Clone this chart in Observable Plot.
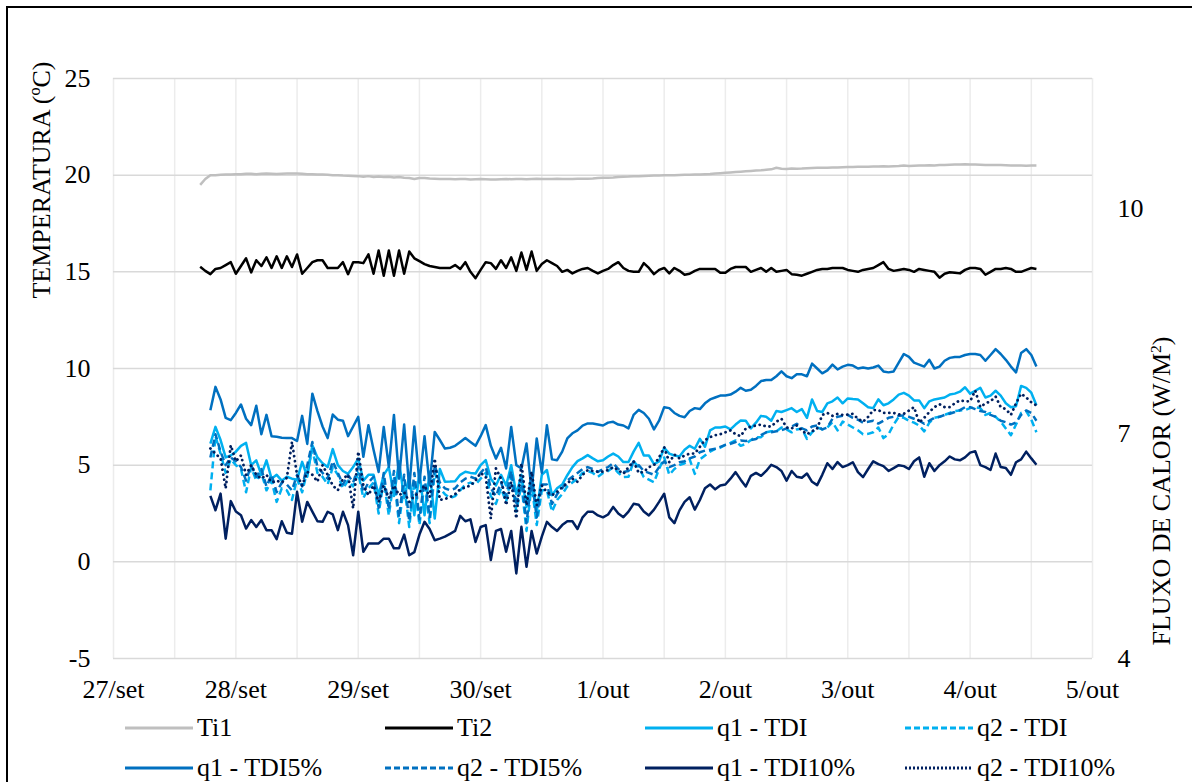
<!DOCTYPE html>
<html><head><meta charset="utf-8">
<script src="https://cdn.jsdelivr.net/npm/d3@7"></script>
<script src="https://cdn.jsdelivr.net/npm/@observablehq/plot@0.6"></script>
<style>
html,body{margin:0;padding:0;background:#fff;}
#wrap{position:relative;width:1192px;height:782px;overflow:hidden;font-family:"Liberation Serif","Times New Roman",serif;color:#000;background:#fff;}
#chart{position:absolute;left:0;top:0;}
#border{position:absolute;left:6px;top:6px;width:1300px;height:900px;border-left:2px solid #000;border-top:2px solid #000;pointer-events:none;}
.title{position:absolute;white-space:nowrap;font-size:26px;transform:translate(-50%,-50%) rotate(-90deg);}
.leg{position:absolute;display:flex;align-items:center;font-size:26px;height:30px;white-space:nowrap;}
.leg svg{margin-right:4px;}
</style></head>
<body><div id="wrap"><div id="chart"></div><div id="border"></div></div>
<script>
// ---- data (hourly readings from 27/set 17h) ----
const xLabels = ["27/set","28/set","29/set","30/set","1/out","2/out","3/out","4/out","5/out"];
const yTicks = [-5,0,5,10,15,20,25];
const rightTicks = [4,7,10];
const seriesNames = ["Ti1","Ti2","q1 - TDI","q2 - TDI","q1 - TDI5%","q2 - TDI5%","q1 - TDI10%","q2 - TDI10%"];

const ti1 = [19.5,19.8,20.0,20.0,20.02,20.03,20.03,20.05,20.05,20.07,
20.07,20.05,20.07,20.08,20.07,20.06,20.07,20.08,20.09,20.08,
20.07,20.05,20.05,20.04,20.03,20.02,20.0,20.0,19.98,19.97,
19.96,19.95,19.92,19.95,19.9,19.93,19.9,19.92,19.88,19.9,
19.87,19.85,19.8,19.85,19.85,19.83,19.82,19.8,19.8,19.8,
19.79,19.8,19.8,19.78,19.79,19.8,19.79,19.78,19.78,19.79,
19.8,19.79,19.8,19.8,19.79,19.8,19.81,19.8,19.8,19.8,
19.81,19.8,19.8,19.8,19.81,19.82,19.82,19.83,19.85,19.86,
19.87,19.88,19.9,19.92,19.93,19.95,19.95,19.96,19.97,19.98,
19.98,19.99,20.0,20.0,20.01,20.02,20.02,20.03,20.04,20.05,
20.06,20.08,20.1,20.12,20.14,20.16,20.18,20.2,20.22,20.24,
20.25,20.28,20.3,20.38,20.33,20.32,20.35,20.33,20.34,20.36,
20.37,20.38,20.38,20.39,20.4,20.4,20.41,20.42,20.42,20.43,
20.43,20.44,20.45,20.45,20.46,20.45,20.46,20.47,20.5,20.48,
20.49,20.5,20.5,20.51,20.5,20.52,20.53,20.54,20.55,20.55,
20.56,20.55,20.55,20.54,20.53,20.52,20.53,20.52,20.51,20.5,
20.5,20.5,20.49,20.5,20.5];

const ti2 = [15.26,15.05,14.88,15.15,15.2,15.35,15.5,14.9,15.3,15.7,
14.97,15.6,15.3,15.75,15.2,15.8,15.2,15.8,15.25,15.9,
14.9,15.2,15.5,15.6,15.6,15.2,15.2,15.2,15.5,14.88,
15.5,15.5,15.45,15.9,14.9,16.1,14.8,16.1,14.8,16.1,
14.9,16.05,15.7,15.55,15.4,15.3,15.25,15.2,15.2,15.2,
15.35,15.15,15.5,15.0,14.67,15.1,15.5,15.45,15.15,15.6,
15.2,15.75,15.05,16.0,15.1,16.05,15.05,15.4,15.6,15.45,
15.3,15.0,15.1,14.92,15.05,15.15,15.2,15.05,14.92,15.05,
15.15,15.35,15.5,15.2,15.05,15.0,15.0,15.45,15.2,14.88,
15.1,15.2,14.92,15.2,15.05,14.85,14.9,15.05,15.15,15.15,
15.15,15.15,14.95,14.95,15.15,15.25,15.25,15.25,15.0,15.1,
15.2,15.0,15.2,15.0,15.05,15.1,14.88,14.85,14.8,14.9,
15.0,15.1,15.15,15.15,15.2,15.2,15.2,15.1,15.05,15.0,
15.1,15.15,15.2,15.35,15.5,15.15,15.05,15.1,15.15,15.1,
15.0,15.15,15.1,15.05,15.0,14.7,14.9,14.98,14.95,14.92,
15.1,15.2,15.2,15.15,14.85,15.0,15.15,15.15,15.2,15.15,
15.0,15.0,15.1,15.2,15.15];

const q1TDI = [null,null,6.12,6.98,6.3,5.4,5.5,5.7,6.0,6.15,
5.0,5.25,4.5,5.25,4.3,4.5,4.2,4.4,4.3,4.25,
5.17,4.4,6.03,5.4,5.1,4.9,5.83,5.0,4.7,4.55,
4.9,5.34,4.2,4.5,4.5,3.45,4.5,4.9,3.4,5.2,
3.3,4.4,2.41,4.66,2.41,4.66,2.24,4.8,4.14,4.15,
4.17,4.5,4.66,4.6,4.57,5.0,5.26,4.3,3.95,4.5,
3.95,5.0,3.5,4.5,2.84,4.6,2.6,4.5,4.75,3.45,
3.8,4.0,4.48,4.9,5.21,5.35,5.52,5.35,5.2,5.25,
5.45,5.6,5.45,5.16,5.16,5.7,6.15,5.5,5.5,5.05,
5.2,5.9,5.6,5.5,5.45,5.8,6.0,5.85,6.36,5.95,
6.8,6.95,6.95,7.0,6.85,7.1,7.31,7.3,6.9,7.2,
7.55,7.5,7.3,7.8,7.75,7.85,7.95,7.75,7.9,7.45,
8.4,7.8,7.75,8.2,8.3,8.5,8.2,8.45,8.42,8.4,
8.2,8.0,7.95,8.4,8.1,8.2,8.4,8.65,8.74,8.6,
8.35,8.35,7.95,8.3,8.4,8.45,8.5,8.65,8.7,8.8,
9.03,8.7,8.85,9.0,8.5,8.6,8.85,8.6,8.2,8.0,
8.05,9.1,9.0,8.75,8.1];

const q2TDI = [null,null,3.7,6.5,5.6,4.6,5.3,5.0,4.8,3.6,
4.9,4.2,4.6,3.7,4.2,3.1,3.8,3.7,3.2,4.3,
3.6,4.7,5.8,4.6,4.4,4.0,4.9,4.5,3.8,4.2,
3.9,4.6,3.3,3.8,4.1,2.5,4.2,2.4,4.3,2.0,
4.0,1.8,4.2,1.9,4.1,2.0,4.6,3.8,3.5,3.3,
3.4,3.7,4.0,4.1,4.0,4.3,4.6,3.4,3.0,3.8,
3.1,4.4,2.6,4.0,1.6,4.0,1.9,3.7,3.7,2.6,
3.2,3.5,3.9,4.1,4.3,4.6,4.7,4.6,4.4,4.6,
4.7,4.9,4.6,4.38,4.4,5.2,4.9,4.38,4.25,4.12,
4.8,5.4,4.5,4.8,5.0,5.1,5.3,4.55,5.3,5.5,
5.7,5.84,5.9,6.05,6.15,6.28,6.0,6.1,6.3,6.45,
6.45,6.7,6.75,6.75,6.95,6.85,6.7,6.85,6.9,6.36,
6.7,6.95,6.85,6.95,7.22,6.8,7.25,7.1,6.95,6.8,
6.6,6.62,6.7,6.95,6.4,6.6,7.1,7.5,7.45,7.3,
7.2,7.05,6.75,7.2,7.45,7.5,7.6,7.7,7.8,7.83,
7.85,7.95,8.0,7.95,7.6,7.7,7.5,7.25,6.9,6.55,
7.1,7.7,7.8,7.35,6.7];

const q1TDI5 = [null,null,7.84,9.05,8.4,7.45,7.33,7.7,8.14,7.4,
7.07,8.07,6.6,7.6,6.5,6.47,6.42,6.4,6.4,6.25,
7.55,6.1,8.7,7.8,7.0,6.4,7.62,7.35,7.3,6.5,
7.0,7.5,5.43,7.07,5.8,4.65,6.98,4.9,7.6,4.3,
7.1,3.8,7.0,4.1,6.5,3.97,6.72,6.3,5.86,5.9,
6.0,6.2,6.4,6.2,6.0,6.5,7.07,6.0,5.34,5.9,
4.83,6.98,5.0,4.83,6.12,3.7,6.38,4.6,7.07,5.3,
5.26,5.7,6.38,6.65,6.8,7.05,7.16,7.15,7.1,7.05,
7.2,7.24,7.1,7.05,6.9,7.6,7.86,7.7,7.4,6.85,
7.3,8.0,7.95,7.7,7.55,7.48,7.8,7.95,7.9,8.2,
8.4,8.5,8.6,8.6,8.65,8.8,9.0,8.85,8.9,9.1,
9.35,9.4,9.4,9.6,9.85,9.6,9.5,9.7,9.7,9.6,
10.25,10.0,9.75,9.9,10.2,9.95,10.1,10.19,10.15,10.0,
10.05,10.0,10.05,10.15,9.85,9.8,9.85,10.3,10.75,10.6,
10.3,10.2,10.1,10.45,10.0,10.1,10.4,10.55,10.6,10.6,
10.7,10.75,10.75,10.7,10.4,10.7,11.0,10.75,10.45,10.1,
9.8,10.8,11.0,10.7,10.1];

const q2TDI5 = [null,null,5.4,6.6,5.7,5.0,5.4,5.2,4.9,4.2,
5.0,4.4,4.8,3.9,4.5,3.6,4.1,4.0,3.7,4.5,
3.9,5.0,6.2,4.9,4.6,4.3,5.2,4.6,4.0,4.5,
4.1,4.9,3.6,4.1,4.4,2.8,4.6,2.7,4.7,2.3,
4.5,2.1,4.6,2.2,4.4,2.3,5.0,4.1,3.8,3.7,
3.8,4.1,4.3,4.4,4.3,4.6,4.9,3.8,3.4,4.1,
3.4,4.7,2.9,4.3,2.0,4.3,2.3,4.0,4.0,3.0,
3.5,3.8,4.2,4.4,4.6,4.8,4.9,4.8,4.65,4.8,
4.9,5.1,4.8,4.65,4.7,5.2,5.0,4.7,4.6,4.5,
4.9,5.2,4.9,5.0,5.15,5.2,5.35,5.45,5.67,5.75,
5.8,5.85,5.95,6.05,6.1,6.2,6.28,6.25,6.3,6.35,
6.55,6.7,6.7,6.75,6.8,6.9,7.0,7.14,6.9,6.8,
7.0,7.05,6.85,6.95,7.4,7.5,7.55,7.6,7.45,7.35,
7.2,7.25,7.3,7.15,7.3,7.45,7.5,7.55,7.57,7.5,
7.4,7.3,7.14,7.3,7.45,7.5,7.6,7.66,7.75,7.85,
8.0,8.0,7.9,7.8,7.75,7.6,7.5,7.3,7.22,7.1,
7.2,7.6,7.83,7.7,7.3];

const q1TDI10 = [null,null,3.41,2.67,3.53,1.2,3.14,2.6,2.41,1.72,
2.16,1.8,2.16,1.64,1.64,1.17,2.1,1.5,1.45,3.62,
2.07,3.1,2.6,2.1,2.07,2.59,2.45,1.64,2.59,1.9,
0.34,2.59,0.52,0.95,0.95,0.95,1.2,1.2,0.7,0.7,
1.41,0.34,0.5,1.41,2.07,1.7,1.12,1.2,1.3,1.45,
1.6,2.38,2.1,2.2,1.03,1.8,1.9,0.09,1.6,1.7,
0.52,1.6,-0.6,1.81,-0.26,1.6,0.43,1.3,2.07,1.8,
1.6,1.9,2.1,2.1,1.7,2.3,2.59,2.59,2.4,2.3,
2.45,2.84,2.5,2.31,2.6,3.0,2.95,2.6,2.4,2.7,
3.1,3.52,2.3,2.0,2.66,3.1,3.34,2.7,3.2,3.8,
4.0,3.75,3.95,4.0,4.3,4.64,4.25,3.9,4.45,4.6,
4.45,4.7,5.02,4.9,4.7,4.2,4.7,4.4,4.35,4.57,
4.14,3.97,4.5,5.1,4.8,5.16,4.9,5.0,5.15,4.64,
4.38,4.8,5.2,5.05,4.95,4.7,4.85,5.0,4.95,4.8,
5.2,5.4,4.4,5.1,4.7,5.0,5.2,5.45,5.3,5.25,
5.4,5.65,5.72,5.0,4.9,4.75,5.6,4.9,4.85,4.5,
5.15,5.3,5.7,5.35,5.02];

const q2TDI10 = [null,null,5.86,5.6,5.35,3.8,6.03,5.2,5.5,4.5,
5.0,4.5,4.3,4.5,4.1,4.2,4.1,4.35,6.2,4.5,
3.95,4.65,4.5,4.15,5.0,4.5,3.95,3.7,4.3,4.5,
2.76,5.7,3.95,3.45,3.95,3.1,3.95,3.3,3.95,3.45,
3.6,3.1,3.4,3.6,3.95,3.35,5.34,3.2,3.25,3.35,
3.5,3.75,3.85,3.95,4.2,4.6,4.4,2.24,4.83,4.3,
2.93,4.14,2.24,5.1,2.93,4.66,2.93,3.95,3.6,3.45,
3.62,3.85,4.05,4.3,4.14,4.5,4.74,4.7,4.66,4.66,
4.75,4.9,4.74,4.55,4.9,5.2,4.6,4.65,4.9,5.0,
5.4,5.93,5.15,5.55,5.35,5.5,5.6,5.6,5.95,6.3,
6.45,6.55,6.6,6.7,6.8,6.6,6.5,6.9,7.0,7.05,
7.1,7.0,7.0,7.25,7.4,6.95,6.9,7.05,6.8,6.6,
6.75,6.9,7.6,7.7,7.55,7.65,7.6,7.62,7.66,7.4,
7.25,7.5,7.85,7.85,7.7,7.7,7.7,7.62,7.66,7.82,
8.0,7.2,7.45,7.75,8.0,8.15,8.0,8.0,8.2,8.35,
8.3,8.3,8.86,8.0,8.2,8.3,8.55,8.0,7.9,7.6,
8.2,8.7,8.5,8.25,8.09];

// ---- setup ----
const start = new Date(Date.UTC(2019, 8, 27, 17));
const times = ti1.map((_, i) => d3.utcHour.offset(start, i));
const x0 = new Date(Date.UTC(2019, 8, 27)), x1 = new Date(Date.UTC(2019, 9, 5));
const dayTicks = d3.utcDay.range(x0, d3.utcDay.offset(x1, 1));
const halfDayTicks = d3.utcHour.every(12).range(x0, d3.utcHour.offset(x1, 1));
const rightMax = 11.733;
const toLeft = r => -5 + (r - 4) * 30 / (rightMax - 4);

const series = [
  {values: ti1, color: "#bfbfbf", dash: null, cap: "butt"},
  {values: ti2, color: "#000000", dash: null, cap: "butt"},
  {values: q1TDI, color: "#00b0f0", dash: null, cap: "butt"},
  {values: q2TDI, color: "#00b0f0", dash: "7,4", cap: "butt"},
  {values: q1TDI5, color: "#0070c0", dash: null, cap: "butt"},
  {values: q2TDI5, color: "#0070c0", dash: "7,4", cap: "butt"},
  {values: q1TDI10, color: "#002060", dash: null, cap: "butt"},
  {values: q2TDI10, color: "#002060", dash: "0.1,5", cap: "round"}
].map((s, k) => ({...s, name: seriesNames[k]}));

const lineMarks = series.map(s => Plot.line(
  s.values.map((v, i) => ({t: times[i], v})).filter(d => d.v != null),
  {x: "t", y: "v", stroke: s.color, strokeWidth: s.cap === "round" ? 2.8 : 2.5, strokeDasharray: s.dash, strokeLinecap: s.cap, strokeLinejoin: "round"}
));

const chart = Plot.plot({
  width: 1192, height: 720,
  marginLeft: 113, marginRight: 100, marginTop: 78, marginBottom: 62,
  style: {fontFamily: '"Liberation Serif","Times New Roman",serif', fontSize: "26px", color: "#000", background: "transparent", overflow: "visible"},
  x: {type: "utc", domain: [x0, x1]},
  y: {domain: [-5, 25]},
  marks: [
    Plot.ruleX(halfDayTicks, {stroke: "#ececec", strokeWidth: 1.5}),
    Plot.ruleY(yTicks, {stroke: "#d9d9d9", strokeWidth: 1.5}),
    Plot.axisX({ticks: dayTicks, tickFormat: d => xLabels[d3.utcDay.count(x0, d)], tickSize: 0, tickPadding: 21, label: null, fill: "#000"}),
    Plot.axisY({ticks: yTicks, tickFormat: d => String(d), tickSize: 0, tickPadding: 23, label: null, fill: "#000"}),
    Plot.axisY({anchor: "right", ticks: rightTicks.map(toLeft), tickFormat: d => String(Math.round(4 + (d + 5) * (rightMax - 4) / 30)), tickSize: 0, tickPadding: 25, label: null, fill: "#000"}),
    ...lineMarks
  ]
});
document.getElementById("chart").appendChild(chart);

const wrap = document.getElementById("wrap");
function addTitle(text, cx, cy) {
  const d = document.createElement("div");
  d.className = "title";
  d.innerHTML = text;
  d.style.left = cx + "px"; d.style.top = cy + "px";
  wrap.appendChild(d);
}
addTitle("TEMPERATURA (ºC)", 42, 180);
addTitle("FLUXO DE CALOR (W/M<sup style='font-size:60%'>2</sup>)", 1162, 491);

// legend
const cols = [125, 385, 645, 905], rows = [728, 768];
series.forEach((s, k) => {
  const d = document.createElement("div");
  d.className = "leg";
  d.style.left = cols[k % 4] + "px";
  d.style.top = (rows[Math.floor(k / 4)] - 15) + "px";
  const dash = s.dash ? (s.cap === "round" ? "2,2" : "6,3") : null;
  d.innerHTML = `<svg width="68" height="8"><line x1="0" y1="4" x2="68" y2="4" stroke="${s.color}" stroke-width="3"${dash ? ` stroke-dasharray="${dash}"` : ""}/></svg><span>${s.name}</span>`;
  wrap.appendChild(d);
});
</script>
</body></html>
